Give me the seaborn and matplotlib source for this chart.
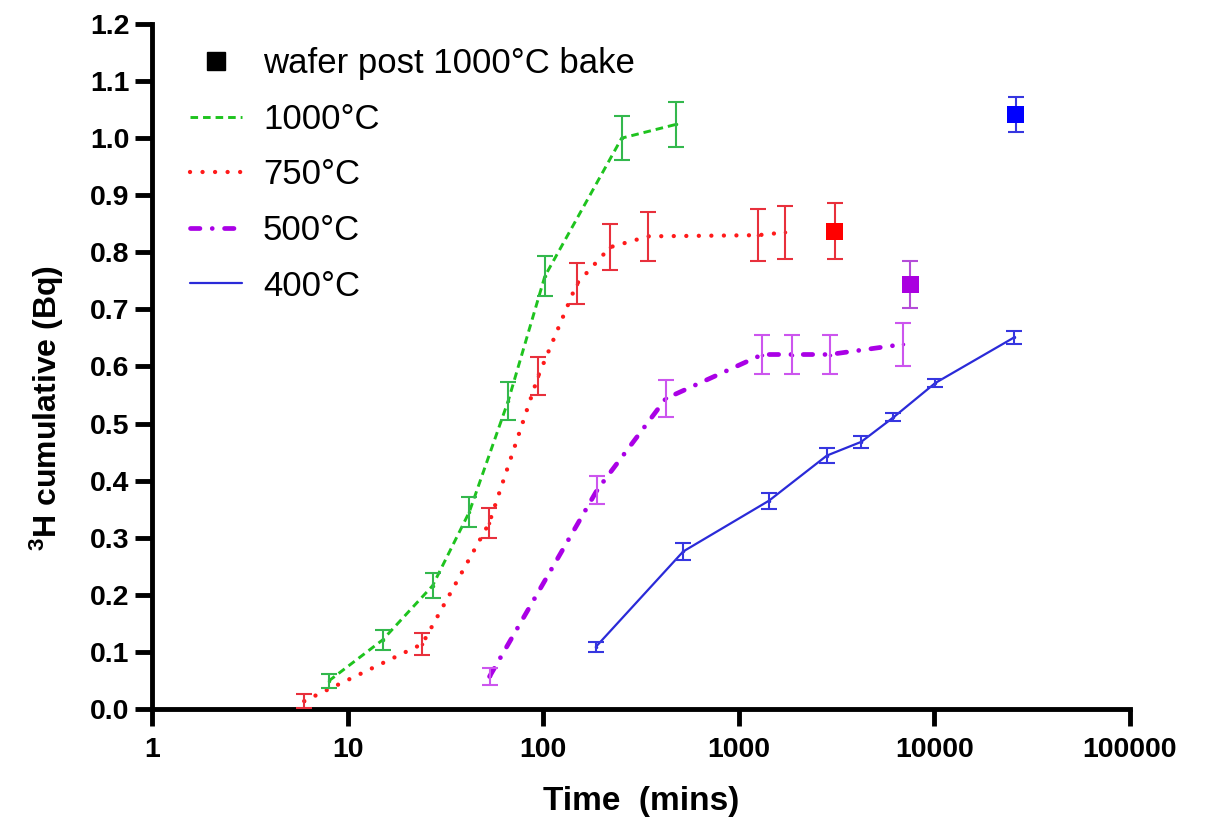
import matplotlib
matplotlib.use("Agg")
import matplotlib.pyplot as plt
import seaborn as sns
import pandas as pd
from matplotlib.lines import Line2D
from matplotlib.ticker import FixedLocator, FixedFormatter, NullLocator, FormatStrFormatter

# --- data ---
green_x = [8.0, 15.1, 27.2, 41.9, 66.3, 102, 252, 477]
green_y = [0.049, 0.121, 0.216, 0.345, 0.540, 0.758, 1.000, 1.024]
green_err = [0.012, 0.017, 0.022, 0.026, 0.033, 0.035, 0.039, 0.040]

red_x = [6.0, 24.1, 53, 94.3, 148.6, 220, 345, 1255, 1730]
red_y = [0.014, 0.114, 0.326, 0.583, 0.745, 0.809, 0.828, 0.830, 0.835]
red_err = [0.013, 0.019, 0.026, 0.033, 0.036, 0.040, 0.043, 0.046, 0.047]

purple_x = [53.2, 189, 424, 1321, 1879, 2912, 6950]
purple_y = [0.057, 0.384, 0.544, 0.621, 0.621, 0.621, 0.639]
purple_err = [0.015, 0.025, 0.032, 0.034, 0.034, 0.034, 0.038]

blue_x = [186, 520, 1428, 2822, 4227, 6180, 10100, 25600]
blue_y = [0.109, 0.276, 0.365, 0.444, 0.468, 0.511, 0.571, 0.651]
blue_err = [0.009, 0.015, 0.014, 0.013, 0.010, 0.007, 0.007, 0.012]

bake_x = [3090, 7550, 26100]
bake_y = [0.837, 0.743, 1.041]
bake_err = [0.049, 0.041, 0.031]

x_ticks = [1, 10, 100, 1000, 10000, 100000]
x_tick_labels = ["1", "10", "100", "1000", "10000", "100000"]

# --- style ---
sns.set_theme(style="ticks")
plt.rcParams["font.family"] = ["Liberation Sans", "DejaVu Sans"]
plt.rcParams["mathtext.fontset"] = "custom"
plt.rcParams["mathtext.rm"] = "Liberation Sans:bold"
plt.rcParams["mathtext.bf"] = "Liberation Sans:bold"
plt.rcParams["mathtext.default"] = "bf"
for key in ["text.color", "axes.labelcolor", "xtick.color", "ytick.color", "axes.edgecolor"]:
    plt.rcParams[key] = "black"

series = [
    dict(label="1000°C", x=green_x, y=green_y, err=green_err, color="#1ec31e", ecolor="#33b84d",
         ls=(0, (2.6, 1.7)), lw=2.1, cap="butt"),
    dict(label="750°C", x=red_x, y=red_y, err=red_err, color="#ff1a1a", ecolor="#e8303c",
         ls=(0, (0.01, 2.9)), lw=3.1, cap="round"),
    dict(label="500°C", x=purple_x, y=purple_y, err=purple_err, color="#aa00e6", ecolor="#cc55ee",
         ls=(0, (2.0, 2.6, 0.01, 2.6)), lw=3.4, cap="round"),
    dict(label="400°C", x=blue_x, y=blue_y, err=blue_err, color="#2a2ad8", ecolor="#3636e0",
         ls="-", lw=1.6, cap="butt"),
]
bake_colors = ["#ff0000", "#aa00e0", "#0000ff"]
bake_ecolors = ["#e8303c", "#b44cd8", "#3636e0"]

fig = plt.figure(figsize=(12.08, 8.26), dpi=100)
ax = fig.add_axes([0.1258, 0.1416, 0.8096, 0.8294])

handles = [Line2D([], [], marker="s", color="black", linestyle="none", markersize=13)]
labels = ["wafer post 1000°C bake"]

for s in series:
    df = pd.DataFrame({"time": s["x"], "value": s["y"]})
    sns.lineplot(data=df, x="time", y="value", ax=ax, color=s["color"], linewidth=s["lw"],
                 linestyle=s["ls"], dash_capstyle=s["cap"], marker="o", markersize=2.5,
                 markeredgewidth=0, legend=False)
    ax.errorbar(s["x"], s["y"], yerr=s["err"], fmt="none", ecolor=s["ecolor"],
                elinewidth=1.5, capsize=6, capthick=1.5, zorder=3)
    handles.append(Line2D([], [], color=s["color"], linewidth=s["lw"], linestyle=s["ls"],
                          dash_capstyle=s["cap"]))
    labels.append(s["label"])

for bx, by, be, c, ec in zip(bake_x, bake_y, bake_err, bake_colors, bake_ecolors):
    ax.errorbar([bx], [by], yerr=[be], fmt="none", ecolor=ec, elinewidth=1.5,
                capsize=6, capthick=1.5, zorder=3)
bake_df = pd.DataFrame({"time": bake_x, "value": bake_y, "grp": ["750", "500", "400"]})
sns.scatterplot(data=bake_df, x="time", y="value", hue="grp", palette=bake_colors, marker="s",
                s=150, linewidth=0, ax=ax, legend=False, zorder=4)

# --- axes ---
ax.set_xscale("log")
ax.set_xlim(1, 100000)
ax.set_ylim(0, 1.2)
ax.xaxis.set_major_locator(FixedLocator(x_ticks))
ax.xaxis.set_major_formatter(FixedFormatter(x_tick_labels))
ax.xaxis.set_minor_locator(NullLocator())
ax.set_yticks([i / 10 for i in range(13)])
ax.yaxis.set_major_formatter(FormatStrFormatter("%.1f"))

sns.despine(ax=ax)
for side in ["left", "bottom"]:
    ax.spines[side].set_linewidth(3.5)
    ax.spines[side].set_color("black")
ax.tick_params(axis="both", which="major", length=12, width=3.5, color="black",
               labelsize=20.5, labelcolor="black")
ax.tick_params(axis="y", pad=4)
ax.tick_params(axis="x", pad=8)
for lab in ax.get_xticklabels() + ax.get_yticklabels():
    lab.set_fontweight("bold")

ax.set_xlabel("Time  (mins)", fontsize=24, fontweight="bold", color="black")
ax.set_ylabel("$^{3}$H cumulative (Bq)", fontsize=23, fontweight="bold", color="black")
ax.xaxis.set_label_coords(0.5, -0.112)
ax.yaxis.set_label_coords(-0.088, 0.44)

ax.legend(handles, labels, loc="upper left", bbox_to_anchor=(0.039, 0.966), frameon=False,
          fontsize=25, handlelength=1.5, handletextpad=0.6, labelspacing=0.65,
          borderpad=0, borderaxespad=0, labelcolor="black")

plt.savefig("out.png", dpi=100)
plt.close()
